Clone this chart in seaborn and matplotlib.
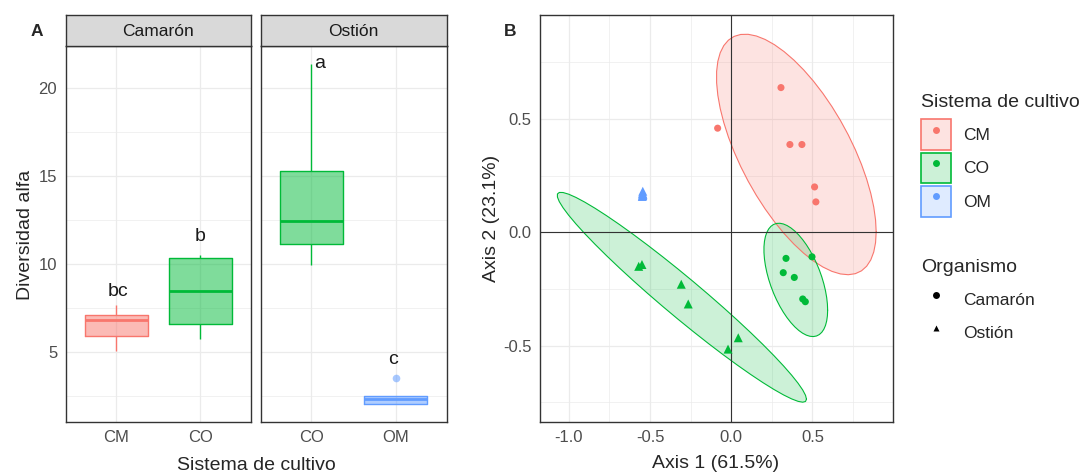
"""
Diversidad alfa (A) y PCoA (B) por sistema de cultivo y organismo
Output: out.png
"""

import numpy as np
import pandas as pd
import matplotlib
matplotlib.use('Agg')
import matplotlib.pyplot as plt
from matplotlib.lines import Line2D
from matplotlib.patches import Patch
from matplotlib.ticker import MultipleLocator
import seaborn as sns

# ---- Panel A: diversidad alfa ----
alfa_camaron_cm = [5.04, 5.91, 6.81, 7.09, 7.66]
alfa_camaron_co = [5.74, 6.56, 8.44, 10.35, 10.51]
alfa_ostion_co = [9.94, 11.12, 12.43, 15.25, 21.37]
alfa_ostion_om = [2.06, 2.06, 2.34, 2.48, 3.50]

letras = ['bc', 'b', 'a', 'c']
letras_organismo = ['Camarón', 'Camarón', 'Ostión', 'Ostión']
letras_sistema = ['CM', 'CO', 'CO', 'OM']
letras_y = [8.17, 11.27, 21.10, 4.32]
letras_dx = [0.02, 0.0, 0.10, -0.03]

# ---- Panel B: PCoA ----
pcoa_cm_camaron_x = [0.306, -0.084, 0.361, 0.435, 0.513, 0.521]
pcoa_cm_camaron_y = [0.638, 0.459, 0.387, 0.387, 0.200, 0.134]
pcoa_co_camaron_x = [0.337, 0.320, 0.388, 0.440, 0.456, 0.497]
pcoa_co_camaron_y = [-0.115, -0.178, -0.199, -0.294, -0.306, -0.108]
pcoa_co_ostion_x = [-0.570, -0.550, -0.308, -0.265, 0.043, -0.020]
pcoa_co_ostion_y = [-0.150, -0.142, -0.229, -0.316, -0.465, -0.515]
pcoa_om_ostion_x = [-0.548, -0.545, -0.546, -0.544, -0.547, -0.545]
pcoa_om_ostion_y = [0.158, 0.162, 0.165, 0.168, 0.172, 0.181]

eje1_label = 'Axis 1 (61.5%)'
eje2_label = 'Axis 2 (23.1%)'

COLORES = {'CM': '#F8766D', 'CO': '#00BA38', 'OM': '#619CFF'}
MARCAS = {'Camarón': 'o', 'Ostión': '^'}
TAM_MARCA = {'Camarón': 26, 'Ostión': 42}
GRID = '#EBEBEB'
BORDE = '#333333'
TICKTXT = '#4D4D4D'
W, H = 1086, 472

sns.set_style('white')
plt.rcParams.update({
    'font.family': ['Liberation Sans', 'DejaVu Sans'],
    'axes.unicode_minus': False,
    'axes.edgecolor': BORDE,
    'axes.linewidth': 1.0,
})
FS_TICK = 12
FS_TXT = 12.5
FS_TITLE = 14


def caja(x0, y0, x1, y1):
    # pixel box (top-left origin) -> figure fraction rect
    return [x0 / W, 1 - y1 / H, (x1 - x0) / W, (y1 - y0) / H]


def cov_trob(xy, nu=5, maxit=25, tol=0.01):
    # robust t covariance (as MASS::cov.trob, used by stat_ellipse)
    n, p = xy.shape
    loc = xy.mean(axis=0)
    w = np.ones(n)
    for _ in range(maxit):
        w0 = w
        X = xy - loc
        _, d, vt = np.linalg.svd(np.sqrt(w / w.sum())[:, None] * X, full_matrices=False)
        wX = X @ vt.T @ np.diag(1 / d)
        Q = (wX ** 2).sum(axis=1)
        w = (nu + p) / (nu + Q)
        loc = (w[:, None] * xy).sum(axis=0) / w.sum()
        if np.all(np.abs(w - w0) < tol):
            break
    sX = np.sqrt(w)[:, None] * X
    return loc, sX.T @ sX / n


def elipse(xy, level=0.95, segments=51):
    center, shape = cov_trob(xy)
    dfd = len(xy) - 1
    fq = dfd / 2 * ((1 - level) ** (-2 / dfd) - 1)   # qf(level, 2, dfd)
    radius = np.sqrt(2 * fq)
    ang = np.linspace(0, 2 * np.pi, segments + 1)
    circ = np.column_stack([np.cos(ang), np.sin(ang)])
    return center + radius * circ @ np.linalg.cholesky(shape).T


def estilo_ejes(ax):
    ax.grid(which='major', color=GRID, lw=0.9)
    ax.grid(which='minor', color=GRID, lw=0.5)
    ax.set_axisbelow(True)
    ax.tick_params(which='minor', length=0)
    ax.tick_params(which='major', length=3.6, width=0.8, color=BORDE, pad=2.5,
                   labelsize=FS_TICK, labelcolor=TICKTXT)
    ax.set_xlabel('')
    ax.set_ylabel('')


def main():
    fig = plt.figure(figsize=(W / 100, H / 100), dpi=100)

    # ------------------------- Panel A -------------------------
    grupos_a = [('Camarón', 'CM', alfa_camaron_cm), ('Camarón', 'CO', alfa_camaron_co),
                ('Ostión', 'CO', alfa_ostion_co), ('Ostión', 'OM', alfa_ostion_om)]
    df_a = pd.DataFrame([(o, s, v) for o, s, vals in grupos_a for v in vals],
                        columns=['Organismo', 'Sistema', 'Diversidad'])
    df_l = pd.DataFrame({'Organismo': letras_organismo, 'Sistema': letras_sistema,
                         'y': letras_y, 'dx': letras_dx, 'txt': letras})

    facetas = [('Camarón', ['CM', 'CO'], (65.7, 46, 250.7, 421.7)),
               ('Ostión', ['CO', 'OM'], (260.5, 46, 446.5, 421.7))]
    for i, (org, orden, bx) in enumerate(facetas):
        ax = fig.add_axes(caja(*bx))
        sub = df_a[df_a['Organismo'] == org]
        # relleno semitransparente
        sns.boxplot(data=sub, x='Sistema', y='Diversidad', hue='Sistema', order=orden,
                    palette=COLORES, saturation=1, width=0.75, fill=True,
                    showcaps=False, showfliers=False,
                    boxprops=dict(alpha=0.5, linewidth=0), whiskerprops=dict(linewidth=0),
                    medianprops=dict(linewidth=0), legend=False, ax=ax)
        # contornos, bigotes, mediana y atipicos
        sns.boxplot(data=sub, x='Sistema', y='Diversidad', hue='Sistema', order=orden,
                    palette=COLORES, saturation=1, width=0.75, fill=False,
                    showcaps=False, linewidth=1.0, medianprops=dict(linewidth=2.0),
                    flierprops=dict(marker='o', markersize=5.5, markeredgewidth=0),
                    legend=False, ax=ax)
        for ln in ax.lines:
            if ln.get_marker() == 'o':
                ln.set_markerfacecolor(ln.get_markeredgecolor())
                ln.set_alpha(0.55)

        ax.set_xlim(-0.6, 1.6)
        ax.set_ylim(1.03, 22.37)
        ax.yaxis.set_major_locator(MultipleLocator(5))
        ax.yaxis.set_minor_locator(MultipleLocator(2.5))
        estilo_ejes(ax)
        ax.grid(which='minor', axis='x', visible=False)
        if i > 0:
            ax.tick_params(axis='y', left=False, labelleft=False)

        for _, r in df_l[df_l['Organismo'] == org].iterrows():
            ax.text(orden.index(r['Sistema']) + r['dx'], r['y'], r['txt'],
                    ha='center', va='baseline', fontsize=FS_TITLE, color='#1A1A1A')

        # strip
        sax = fig.add_axes(caja(bx[0], 15, bx[2], 46))
        sax.set_facecolor('#D9D9D9')
        sax.set_xticks([])
        sax.set_yticks([])
        sax.text(0.5, 0.48, org, ha='center', va='center', fontsize=FS_TXT,
                 color='#1A1A1A', transform=sax.transAxes)

    fig.text(30 / W, 1 - 235 / H, 'Diversidad alfa', rotation=90, rotation_mode='anchor',
             ha='center', va='baseline', fontsize=FS_TITLE)
    fig.text(256 / W, 1 - 470 / H, 'Sistema de cultivo', ha='center', va='baseline',
             fontsize=FS_TITLE)
    fig.text(31 / W, 1 - 36 / H, 'A', ha='left', va='baseline', fontsize=12.5,
             fontweight='bold')

    # ------------------------- Panel B -------------------------
    grupos_b = [('CM', 'Camarón', pcoa_cm_camaron_x, pcoa_cm_camaron_y),
                ('CO', 'Camarón', pcoa_co_camaron_x, pcoa_co_camaron_y),
                ('CO', 'Ostión', pcoa_co_ostion_x, pcoa_co_ostion_y),
                ('OM', 'Ostión', pcoa_om_ostion_x, pcoa_om_ostion_y)]
    df_b = pd.DataFrame([(s, o, x, y) for s, o, xs, ys in grupos_b for x, y in zip(xs, ys)],
                        columns=['Sistema', 'Organismo', 'Axis1', 'Axis2'])

    axb = fig.add_axes(caja(540.3, 15, 892.7, 421.7))
    grupos_elipse = [('CM', 'Camarón'), ('CO', 'Camarón'), ('CO', 'Ostión')]
    for s, o in grupos_elipse:
        g = df_b[(df_b['Sistema'] == s) & (df_b['Organismo'] == o)]
        e = elipse(g[['Axis1', 'Axis2']].to_numpy())
        axb.fill(e[:, 0], e[:, 1], facecolor=COLORES[s], alpha=0.2, zorder=1)
        axb.plot(e[:, 0], e[:, 1], color=COLORES[s], lw=0.8, zorder=1.5)

    axb.axhline(0, color='#333333', lw=0.8, zorder=2)
    axb.axvline(0, color='#333333', lw=0.8, zorder=2)
    for org, marca in MARCAS.items():
        sns.scatterplot(data=df_b[df_b['Organismo'] == org], x='Axis1', y='Axis2',
                        hue='Sistema', palette=COLORES, marker=marca, s=TAM_MARCA[org],
                        edgecolor='none', legend=False, ax=axb, zorder=3)

    axb.set_xlim(-1.176, 0.994)
    axb.set_ylim(-0.835, 0.958)
    axb.xaxis.set_major_locator(MultipleLocator(0.5))
    axb.yaxis.set_major_locator(MultipleLocator(0.5))
    axb.xaxis.set_minor_locator(MultipleLocator(0.25))
    axb.yaxis.set_minor_locator(MultipleLocator(0.25))
    estilo_ejes(axb)
    axb.xaxis.set_major_formatter(lambda v, p: f'{v:.1f}')
    axb.yaxis.set_major_formatter(lambda v, p: f'{v:.1f}')

    fig.text(496 / W, 1 - 218 / H, eje2_label, rotation=90, rotation_mode='anchor',
             ha='center', va='baseline', fontsize=FS_TITLE)
    fig.text(716 / W, 1 - 468 / H, eje1_label, ha='center', va='baseline',
             fontsize=FS_TITLE)
    fig.text(504 / W, 1 - 36 / H, 'B', ha='left', va='baseline', fontsize=12.5,
             fontweight='bold')

    # ------------------------- Leyendas -------------------------
    ley_kw = dict(loc='upper left', frameon=False, fontsize=FS_TXT,
                  title_fontsize=FS_TITLE, handlelength=1.75, handleheight=2.35,
                  labelspacing=0.15, handletextpad=0.65, borderpad=0,
                  borderaxespad=0, alignment='left')
    h_sis = [(Patch(facecolor=matplotlib.colors.to_rgba(c, 0.2), edgecolor=c, lw=1.2),
              Line2D([], [], ls='', marker='o', ms=5, color=c, mec='none'))
             for c in COLORES.values()]
    leg1 = fig.legend(h_sis, list(COLORES.keys()), title='Sistema de cultivo',
                      bbox_to_anchor=(921 / W, 1 - 94 / H), **ley_kw)
    leg1._legend_box.sep = 6.0
    h_org = [Line2D([], [], ls='', marker=m, ms=5, color='black', mec='none')
             for m in MARCAS.values()]
    leg2 = fig.legend(h_org, list(MARCAS.keys()), title='Organismo',
                      bbox_to_anchor=(921 / W, 1 - 259 / H), **ley_kw)
    leg2._legend_box.sep = 6.0

    fig.savefig('out.png', dpi=100)
    plt.close(fig)


if __name__ == '__main__':
    main()
